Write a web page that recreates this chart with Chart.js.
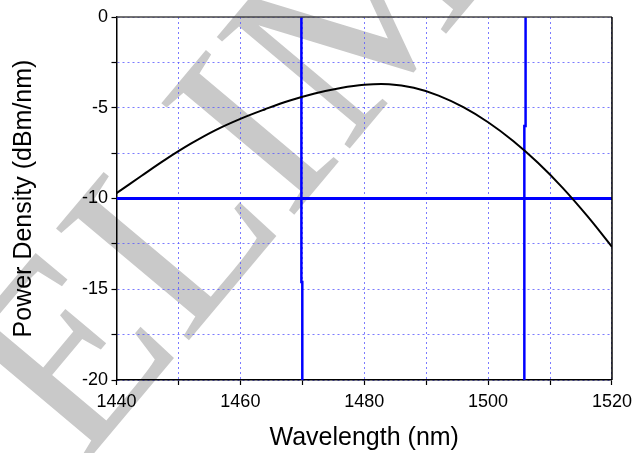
<!DOCTYPE html>
<html>
<head>
<meta charset="utf-8">
<script src="https://cdn.jsdelivr.net/npm/chart.js@4.4.1/dist/chart.umd.min.js"></script>
<style>
    html, body { margin: 0; padding: 0; background: #fff; }
    #chart { display: block; }
</style>
</head>
<body>
<canvas id="chart" width="638" height="453"></canvas>
<script>
// spectrum
const wavelength = [1440, 1444, 1448, 1452, 1456, 1460, 1464, 1468, 1472, 1476, 1480, 1484, 1488, 1492, 1496, 1500, 1504, 1508, 1512, 1516, 1520];
const power = [-9.71, -8.76, -7.83, -6.98, -6.23, -5.61, -5.08, -4.60, -4.21, -3.92, -3.73, -3.70, -3.90, -4.33, -4.97, -5.80, -6.82, -8.02, -9.40, -10.96, -12.66];

// -10 dB level and the two cut-off markers (each drawn with its small jog)
const levelY = -10;
const leftMarkerX = [1469.85, 1470.0];
const leftMarkerJog = -14.6;
const rightMarkerX = [1506.05, 1505.85];
const rightMarkerJog = -6.0;

const xTickLabels = [1440, 1460, 1480, 1500, 1520];
const yTickLabels = [0, -5, -10, -15, -20];

const font = "'Liberation Sans', Arial, sans-serif";

function markerPoints(xs, jog) {
    return [
        { x: xs[0], y: 0 }, { x: xs[0], y: jog },
        { x: xs[1], y: jog }, { x: xs[1], y: -20 }
    ];
}

const pageBits = {
    id: 'pageBits',
    beforeDraw(chart) {
        const ctx = chart.ctx;
        ctx.save();
        ctx.fillStyle = '#fff';
        ctx.fillRect(0, 0, chart.width, chart.height);
        // faint watermark behind the plot
        ctx.translate(80, 470);
        ctx.rotate(-50 * Math.PI / 180);
        ctx.font = "265px 'Liberation Serif', 'Times New Roman', serif";
        ctx.fillStyle = '#c9c9c9';
        ctx.fillText('ELIM', 0, 0);
        ctx.restore();
    },
    afterDraw(chart) {
        const { ctx, chartArea: a } = chart;
        ctx.save();
        ctx.lineWidth = 1.5;
        ctx.strokeStyle = '#444';
        ctx.beginPath();
        ctx.moveTo(a.left, a.top);
        ctx.lineTo(a.right, a.top);
        ctx.stroke();
        ctx.strokeStyle = '#000';
        ctx.beginPath();
        ctx.moveTo(a.right, a.top);
        ctx.lineTo(a.right, a.bottom);
        ctx.stroke();
        ctx.restore();
    }
};

const gridStyle = {
    color: 'rgba(90,90,255,0.8)',
    lineWidth: 1,
    tickLength: 5,
    tickColor: '#000',
    tickWidth: 1.2
};

new Chart(document.getElementById('chart'), {
    type: 'line',
    data: {
        datasets: [
            {
                data: wavelength.map((w, i) => ({ x: w, y: power[i] })),
                borderColor: '#000',
                borderWidth: 2,
                pointRadius: 0,
                tension: 0.4,
                order: 1
            },
            {
                data: [{ x: 1440, y: levelY }, { x: 1520, y: levelY }],
                borderColor: '#0000ff',
                borderWidth: 3,
                pointRadius: 0,
                order: 2
            },
            {
                data: markerPoints(leftMarkerX, leftMarkerJog),
                borderColor: '#0000ff',
                borderWidth: 2.5,
                pointRadius: 0,
                order: 2
            },
            {
                data: markerPoints(rightMarkerX, rightMarkerJog),
                borderColor: '#0000ff',
                borderWidth: 2.5,
                pointRadius: 0,
                order: 2
            }
        ]
    },
    options: {
        responsive: false,
        devicePixelRatio: 1,
        animation: false,
        layout: { padding: { top: 17, right: 24.7, left: 0, bottom: 0 } },
        plugins: { legend: { display: false }, tooltip: { enabled: false } },
        scales: {
            x: {
                type: 'linear',
                min: 1440,
                max: 1520,
                afterFit: s => { s.height = 73; },
                border: { color: '#000', width: 1.5, dash: [2, 3] },
                grid: gridStyle,
                ticks: {
                    stepSize: 10,
                    padding: 6,
                    maxRotation: 0,
                    color: '#000',
                    font: { family: font, size: 18 },
                    callback: v => xTickLabels.includes(v) ? String(v) : ''
                },
                title: {
                    display: true,
                    text: 'Wavelength (nm)',
                    color: '#000',
                    font: { family: font, size: 25 },
                    padding: { top: 0, bottom: 0 }
                }
            },
            y: {
                type: 'linear',
                min: -20,
                max: 0,
                afterFit: s => { s.width = 116.5; },
                border: { color: '#000', width: 1.5, dash: [2, 3] },
                grid: gridStyle,
                ticks: {
                    stepSize: 2.5,
                    padding: 3.5,
                    color: '#000',
                    font: { family: font, size: 18 },
                    callback: v => yTickLabels.includes(v) ? String(v) : ''
                },
                title: {
                    display: true,
                    text: 'Power Density (dBm/nm)',
                    color: '#000',
                    font: { family: font, size: 25 },
                    padding: { top: 9, bottom: 0 }
                }
            }
        }
    },
    plugins: [pageBits]
});
</script>
</body>
</html>
